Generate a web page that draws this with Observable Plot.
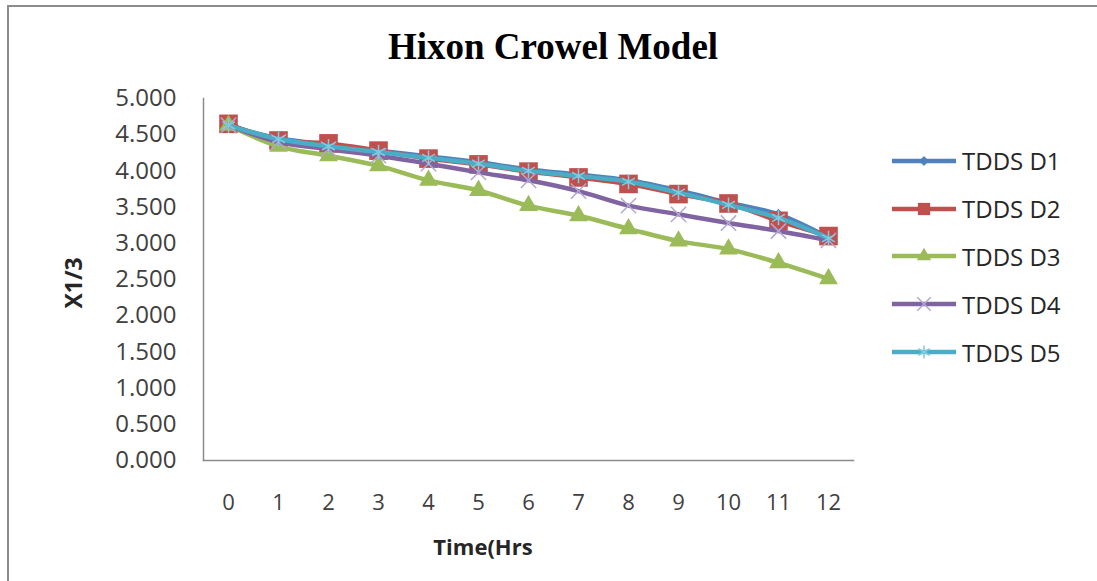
<!DOCTYPE html>
<html><head><meta charset="utf-8">
<script src="https://cdn.jsdelivr.net/npm/d3@7"></script>
<script src="https://cdn.jsdelivr.net/npm/@observablehq/plot@0.6"></script>
<style>
body{margin:0;background:#fff;}
#wrap{position:relative;width:1097px;height:581px;overflow:hidden;background:#fff;font-family:"Open Sans",sans-serif;}
#border{position:absolute;left:7px;top:5px;width:1200px;height:700px;border-top:2px solid #8c8c8c;border-left:2px solid #8c8c8c;}
#chart{position:absolute;left:0;top:0;}
#title{position:absolute;left:553px;top:28px;transform:translateX(-50%);font-family:"Liberation Serif",serif;font-weight:bold;font-size:37px;line-height:1;white-space:nowrap;color:#000;}
#xtitle{position:absolute;left:483px;top:531px;transform:translateX(-50%);font-weight:bold;font-size:22px;line-height:1.4;white-space:nowrap;color:#262626;}
#ytitle{position:absolute;left:73px;top:283px;transform:translate(-50%,-50%) rotate(-90deg);font-weight:bold;font-size:23px;line-height:1.4;white-space:nowrap;color:#262626;}
#legend{position:absolute;left:892px;top:137px;}
.item{display:flex;align-items:center;height:47.8px;}
.item svg{display:block;}
.item span{margin-left:6px;font-size:24px;color:#262626;white-space:nowrap;}
</style></head>
<body>
<div id="wrap">
  <div id="border"></div>
  <div id="chart"></div>
  <div id="title">Hixon Crowel Model</div>
  <div id="xtitle">Time(Hrs</div>
  <div id="ytitle">X1/3</div>
  <div id="legend"></div>
</div>
<script>
// ---- data ----
const hours = [0,1,2,3,4,5,6,7,8,9,10,11,12];
const seriesNames = ["TDDS D1","TDDS D2","TDDS D3","TDDS D4","TDDS D5"];
const d1 = [4.63,4.45,4.36,4.28,4.20,4.12,4.02,3.95,3.87,3.73,3.56,3.40,3.08];
const d2 = [4.65,4.42,4.38,4.28,4.17,4.09,3.99,3.91,3.82,3.68,3.55,3.31,3.10];
const d3v = [4.63,4.34,4.21,4.07,3.87,3.73,3.52,3.38,3.20,3.03,2.92,2.73,2.51];
const d4 = [4.63,4.40,4.30,4.21,4.10,3.98,3.87,3.72,3.52,3.40,3.28,3.17,3.04];
const d5 = [4.63,4.44,4.34,4.26,4.18,4.10,4.00,3.93,3.85,3.70,3.53,3.35,3.07];
const yTicks = [0,0.5,1,1.5,2,2.5,3,3.5,4,4.5,5];

// ---- styles ----
const seriesValues = [d1,d2,d3v,d4,d5];
const styles = [
  {line:"#4F81BD", symbol:"diamond2", fill:"#4F81BD", stroke:"#4F81BD", r:4.5, sw:1, lsym:d3.symbolDiamond2, lsize:50},
  {line:"#C0504D", symbol:"square", fill:"#C0504D", stroke:"none", r:10.5, sw:0, lsym:d3.symbolSquare, lsize:150},
  {line:"#9BBB59", symbol:"triangle", fill:"#9BBB59", stroke:"none", r:7, sw:0, lsym:d3.symbolTriangle, lsize:90},
  {line:"#8064A2", symbol:"times", fill:"none", stroke:"#B3A6D0", r:7, sw:1.5, lsym:d3.symbolTimes, lsize:120},
  {line:"#4BACC6", symbol:"asterisk", fill:"none", stroke:"#7FCBE0", r:7, sw:1.5, lsym:d3.symbolAsterisk, lsize:120}
];

const rows = [];
seriesNames.forEach((s,i)=>hours.forEach((h,j)=>rows.push({series:s, hour:h, value:seriesValues[i][j]})));

const marks = [];
seriesNames.forEach((s,i)=>{
  const st = styles[i];
  const data = rows.filter(r=>r.series===s);
  marks.push(Plot.line(data,{x:"hour",y:"value",stroke:st.line,strokeWidth:4.5,curve:"catmull-rom"}));
  marks.push(Plot.dot(data,{x:"hour",y:"value",symbol:st.symbol,fill:st.fill,stroke:st.stroke,strokeWidth:st.sw,r:st.r}));
});

const chart = Plot.plot({
  width:1097, height:581,
  marginLeft:203, marginRight:244, marginTop:98, marginBottom:121,
  style:{fontFamily:"Open Sans", background:"transparent", color:"#404040"},
  x:{type:"point", domain:hours, padding:0.5},
  y:{domain:[0,5]},
  marks:[
    Plot.frame({anchor:"left", stroke:"#8c8c8c", strokeWidth:1.5}),
    Plot.frame({anchor:"bottom", stroke:"#8c8c8c", strokeWidth:1.5}),
    Plot.axisY(yTicks,{tickSize:0, tickPadding:27, tickFormat:d=>d.toFixed(3), fontSize:24, label:null}),
    Plot.axisX(hours,{tickSize:0, tickPadding:34, fontSize:22, label:null}),
    ...marks
  ]
});
document.getElementById("chart").appendChild(chart);

// ---- legend ----
const legend = d3.select("#legend");
seriesNames.forEach((s,i)=>{
  const st = styles[i];
  const item = legend.append("div").attr("class","item");
  const svg = item.append("svg").attr("width",64).attr("height",20);
  svg.append("line").attr("x1",0).attr("x2",64).attr("y1",10).attr("y2",10).attr("stroke",st.line).attr("stroke-width",4.5);
  svg.append("path").attr("transform","translate(32,10)")
    .attr("d", d3.symbol(st.lsym, st.lsize)())
    .attr("fill", st.fill).attr("stroke", st.stroke).attr("stroke-width", st.sw);
  item.append("span").text(s);
});
</script>
</body></html>
